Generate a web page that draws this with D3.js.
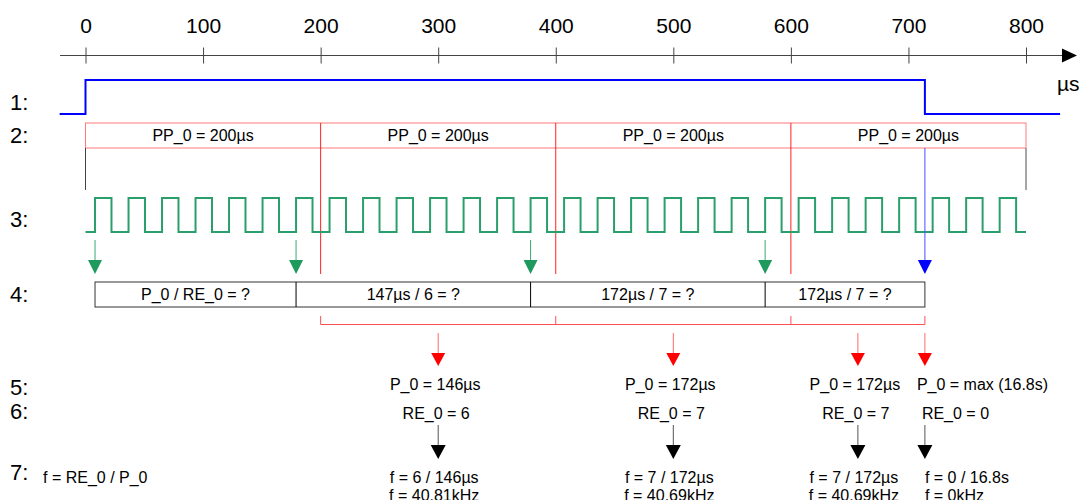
<!DOCTYPE html>
<html>
<head>
<meta charset="utf-8">
<script src="https://cdn.jsdelivr.net/npm/d3@7"></script>
<style>
  body { margin: 0; background: #fff; }
  text { font-family: "Liberation Sans", Arial, sans-serif; fill: #000; }
  .big { font-size: 21px; }
  .small { font-size: 16px; }
</style>
</head>
<body>
<svg id="chart"></svg>
<script>
// time axis (µs)
const tickValues = [0, 100, 200, 300, 400, 500, 600, 700, 800];
const rowLabels = ["1:", "2:", "3:", "4:", "5:", "6:", "7:"];

// 1: enable signal
const enableTimes = [-22, 0, 714, 829];
const enableLevels = [0, 1, 0, 0];

// 2: measurement periods
const periodBounds = [0, 200, 400, 600, 800];
const periodLabels = ["PP_0 = 200µs", "PP_0 = 200µs", "PP_0 = 200µs", "PP_0 = 200µs"];

// 3: input pulses (rising edges, µs)
const clockRises = [8.1, 36.6, 65.1, 93.6, 122.1, 150.6, 179.1, 207.6, 236.1, 264.6,
  293.1, 321.6, 350.1, 378.6, 407.1, 435.6, 464.1, 492.6, 521.1, 549.6,
  578.1, 606.6, 635.1, 663.6, 692.1, 720.6, 749.1, 777.6];
const clockHigh = 14;
const clockEnd = 800;

// 4: capture windows
const captureTimes = [8.1, 179.1, 378.6, 578.1];
const stopTime = 714;
const windowLabels = ["P_0 / RE_0 = ?", "147µs / 6 = ?", "172µs / 7 = ?", "172µs / 7 = ?"];

// 5-7: results
const resultTimes = [300, 500, 657, 714];
const p0Labels = ["P_0 = 146µs", "P_0 = 172µs", "P_0 = 172µs", "P_0 = max (16.8s)"];
const re0Labels = ["RE_0 = 6", "RE_0 = 7", "RE_0 = 7", "RE_0 = 0"];
const fCalcLabels = ["f = 6 / 146µs", "f = 7 / 172µs", "f = 7 / 172µs", "f = 0 / 16.8s"];
const fResultLabels = ["f = 40.81kHz", "f = 40.69kHz", "f = 40.69kHz", "f = 0kHz"];

const width = 1079, height = 500;

const svg = d3.select("#chart")
    .attr("width", width)
    .attr("height", height);

const x = d3.scaleLinear().domain([0, 800]).range([85.5, 1026]);

// row label column
const labelY = [110, 143, 227, 302, 395, 419, 480];
svg.selectAll(".row-label")
    .data(rowLabels)
  .join("text")
    .attr("class", "row-label")
    .attr("font-size", 22)
    .attr("x", 10)
    .attr("y", (d, i) => labelY[i])
    .text(d => d);

// time axis
const axisY = 55.5;
svg.append("line")
    .attr("x1", 60).attr("x2", 1064)
    .attr("y1", axisY).attr("y2", axisY)
    .attr("stroke", "#444");
svg.append("path")
    .attr("d", `M1062,${axisY - 7}L1077,${axisY}L1062,${axisY + 7}Z`)
    .attr("fill", "#000");

const axisG = svg.append("g")
    .attr("transform", `translate(0,${axisY})`)
    .call(d3.axisTop(x).tickValues(tickValues).tickSize(8).tickPadding(15));
axisG.select(".domain").remove();
axisG.selectAll(".tick line").attr("y1", 8).attr("y2", -8).attr("stroke", "#444");
axisG.selectAll(".tick text")
    .attr("font-size", 21)
    .attr("font-family", "Liberation Sans, Arial, sans-serif")
    .attr("fill", "#000");

svg.append("text")
    .attr("class", "big")
    .attr("x", 1057).attr("y", 91)
    .text("µs");

// 1: enable signal
const y1 = d3.scaleLinear().domain([0, 1]).range([114, 80]);
const stepLine = d3.line().curve(d3.curveStepAfter);
svg.append("path")
    .attr("d", stepLine(enableTimes.map((t, i) => [x(t), y1(enableLevels[i])])))
    .attr("fill", "none")
    .attr("stroke", "#0000ff")
    .attr("stroke-width", 2);

// 2: period boxes
const boxTop = 123, boxBot = 148;
svg.append("rect")
    .attr("x", x(periodBounds[0]))
    .attr("y", boxTop)
    .attr("width", x(periodBounds[periodBounds.length - 1]) - x(periodBounds[0]))
    .attr("height", boxBot - boxTop)
    .attr("fill", "none")
    .attr("stroke", "#ff7b7b");

svg.selectAll(".period-label")
    .data(periodLabels)
  .join("text")
    .attr("class", "period-label small")
    .attr("text-anchor", "middle")
    .attr("x", (d, i) => (x(periodBounds[i]) + x(periodBounds[i + 1])) / 2)
    .attr("y", 141)
    .text(d => d);

// red period dividers, running down to row 4
svg.selectAll(".divider")
    .data(periodBounds.slice(1, -1))
  .join("line")
    .attr("class", "divider")
    .attr("x1", d => x(d)).attr("x2", d => x(d))
    .attr("y1", boxTop).attr("y2", 274)
    .attr("stroke", "#ff2020");

// black end markers
svg.append("line")
    .attr("x1", x(0)).attr("x2", x(0))
    .attr("y1", boxBot).attr("y2", 190)
    .attr("stroke", "#444");
svg.append("line")
    .attr("x1", x(800)).attr("x2", x(800))
    .attr("y1", boxBot).attr("y2", 190)
    .attr("stroke", "#888")
    .attr("stroke-width", 1.5);

// 3: input pulses
const y3 = d3.scaleLinear().domain([0, 1]).range([232, 198]);
const clockPts = [[x(0), y3(0)]];
clockRises.forEach(r => {
  clockPts.push([x(r), y3(1)]);
  clockPts.push([x(r + clockHigh), y3(0)]);
});
clockPts.push([x(clockEnd), y3(0)]);
svg.append("path")
    .attr("d", stepLine(clockPts))
    .attr("fill", "none")
    .attr("stroke", "#2a9f6c")
    .attr("stroke-width", 2);

// arrow helper
function arrow(cx, yTop, yTip, headLen, headW, lineColor, headColor) {
  svg.append("line")
      .attr("x1", cx).attr("x2", cx)
      .attr("y1", yTop).attr("y2", yTip - headLen)
      .attr("stroke", lineColor);
  svg.append("path")
      .attr("d", `M${cx - headW / 2},${yTip - headLen}L${cx + headW / 2},${yTip - headLen}L${cx},${yTip}Z`)
      .attr("fill", headColor);
}

captureTimes.forEach(t => arrow(x(t), 240, 274, 14, 14, "#3aa977", "#1e9a5e"));

// blue stop line + arrow
arrow(x(stopTime), boxBot, 274, 14, 14, "#4a4aff", "#0000ff");

// 4: capture windows
const winTop = 282, winBot = 307;
const winBounds = captureTimes.concat([stopTime]);
svg.append("rect")
    .attr("x", x(winBounds[0]))
    .attr("y", winTop)
    .attr("width", x(stopTime) - x(winBounds[0]))
    .attr("height", winBot - winTop)
    .attr("fill", "none")
    .attr("stroke", "#333");
svg.selectAll(".win-div")
    .data(winBounds.slice(1, -1))
  .join("line")
    .attr("class", "win-div")
    .attr("x1", d => x(d)).attr("x2", d => x(d))
    .attr("y1", winTop).attr("y2", winBot)
    .attr("stroke", "#000");
svg.selectAll(".win-label")
    .data(windowLabels)
  .join("text")
    .attr("class", "win-label small")
    .attr("text-anchor", "middle")
    .attr("x", (d, i) => (x(winBounds[i]) + x(winBounds[i + 1])) / 2)
    .attr("y", 300)
    .text(d => d);

// red bracket under the windows
const brY = 324.5;
svg.append("line")
    .attr("x1", x(200)).attr("x2", x(stopTime))
    .attr("y1", brY).attr("y2", brY)
    .attr("stroke", "#ff5050");
svg.selectAll(".br-tick")
    .data([200, 400, 600, stopTime])
  .join("line")
    .attr("class", "br-tick")
    .attr("x1", d => x(d)).attr("x2", d => x(d))
    .attr("y1", 316).attr("y2", brY)
    .attr("stroke", "#ff5050");

// 5-7: results (last line runs past the bottom edge, as in the original)
resultTimes.forEach((t, i) => {
  const cx = x(t);
  arrow(cx, 333, 366, 13, 14, "#ff6a6a", "#ff0000");
  arrow(cx, 425, 459, 14, 15, "#555", "#000");

  const last = i === resultTimes.length - 1;
  const anchor = last ? "start" : "middle";
  const rows = [
    [p0Labels[i], 390, last ? -8 : -3],
    [re0Labels[i], 419, last ? -3 : -2],
    [fCalcLabels[i], 483, last ? 0 : -4],
    [fResultLabels[i], 501, last ? 0 : -4]
  ];
  rows.forEach(([txt, y, dx]) => {
    svg.append("text")
        .attr("class", "small")
        .attr("text-anchor", anchor)
        .attr("x", cx + dx)
        .attr("y", y)
        .text(txt);
  });
});

svg.append("text")
    .attr("class", "small")
    .attr("x", 43)
    .attr("y", 483)
    .text("f = RE_0 / P_0");
</script>
</body>
</html>
